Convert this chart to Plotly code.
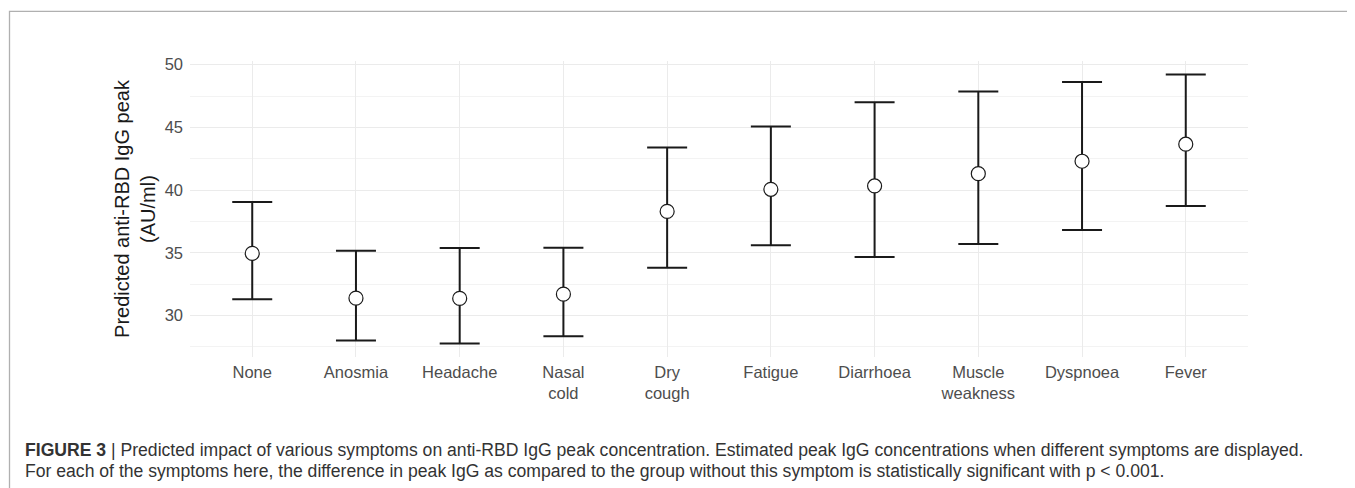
import plotly.graph_objects as go

categories = ["None", "Anosmia", "Headache", "Nasal<br>cold", "Dry<br>cough", "Fatigue",
              "Diarrhoea", "Muscle<br>weakness", "Dyspnoea", "Fever"]
estimate = [34.95, 31.38, 31.36, 31.70, 38.30, 40.06, 40.33, 41.31, 42.30, 43.66]
upper = [39.05, 35.16, 35.38, 35.40, 43.39, 45.06, 47.00, 47.86, 48.61, 49.22]
lower = [31.30, 28.00, 27.76, 28.35, 33.80, 35.60, 34.66, 35.69, 36.81, 38.73]
y_ticks = [30, 35, 40, 45, 50]

err_plus = [u - e for u, e in zip(upper, estimate)]
err_minus = [e - l for e, l in zip(estimate, lower)]

OFF = 8  # page body margin
W, H = 1355 - OFF, 488 - OFF
L, R, T, B = 190 - OFF, 1248 - OFF, 60.6 - OFF, 356.7 - OFF

fig = go.Figure()
fig.add_trace(go.Scatter(
    x=list(range(len(categories))), y=estimate, mode="markers",
    marker=dict(size=14, color="white", line=dict(color="#1a1a1a", width=1.2)),
    error_y=dict(type="data", symmetric=False, array=err_plus, arrayminus=err_minus,
                 color="#1a1a1a", thickness=2, width=20),
    showlegend=False,
))

ymin = min(lower) - 0.05 * (max(upper) - min(lower))
ymax = max(upper) + 0.05 * (max(upper) - min(lower))

def px_x(px):
    return (px - OFF - L) / (R - L)

def px_y(py):
    return (B - (py - OFF)) / (B - T)

fig.update_layout(
    width=W, height=H,
    margin=dict(l=L, r=W - R, t=T, b=H - B),
    paper_bgcolor="white", plot_bgcolor="white",
    font=dict(family="Liberation Sans, Arial, sans-serif", color="#4d4d4d"),
    xaxis=dict(
        range=[-0.6, len(categories) - 0.4],
        tickmode="array", tickvals=list(range(len(categories))), ticktext=categories,
        showgrid=True, gridcolor="#ebebeb", gridwidth=1.2,
        zeroline=False, showline=False, ticks="",
        tickfont=dict(size=16.5, color="#4d4d4d"),
        ticklabelstandoff=3,
    ),
    yaxis=dict(
        range=[ymin, ymax],
        tickmode="array", tickvals=y_ticks,
        showgrid=True, gridcolor="#ebebeb", gridwidth=1.2,
        minor=dict(tickmode="array", tickvals=[27.5, 32.5, 37.5, 42.5, 47.5],
                   showgrid=True, gridcolor="#f3f3f3", gridwidth=0.8),
        zeroline=False, showline=False, ticks="",
        tickfont=dict(size=16.5, color="#4d4d4d"),
        ticklabelstandoff=6,
        title=dict(text="Predicted anti-RBD IgG peak<br>(AU/ml)",
                   font=dict(size=20, color="#1a1a1a"), standoff=3),
    ),
    shapes=[dict(type="path", xref="paper", yref="paper",
                 path=f"M {px_x(9.5)} {px_y(600)} L {px_x(9.5)} {px_y(11)} L {px_x(1354)} {px_y(11)} L {px_x(1354)} {px_y(600)}",
                 line=dict(color="#b0b0b0", width=1.3))],
    annotations=[
        dict(xref="paper", yref="paper", x=px_x(23), y=px_y(450), xanchor="left", yanchor="middle",
             showarrow=False, align="left",
             text="<b>FIGURE 3</b> | Predicted impact of various symptoms on anti-RBD IgG peak concentration. Estimated peak IgG concentrations when different symptoms are displayed.",
             font=dict(family="Liberation Sans, Arial, sans-serif", size=17.6, color="#333333")),
        dict(xref="paper", yref="paper", x=px_x(23), y=px_y(471), xanchor="left", yanchor="middle",
             showarrow=False, align="left",
             text="For each of the symptoms here, the difference in peak IgG as compared to the group without this symptom is statistically significant with p &lt; 0.001.",
             font=dict(family="Liberation Sans, Arial, sans-serif", size=17.6, color="#333333")),
    ],
)

fig.write_html("out.html")
